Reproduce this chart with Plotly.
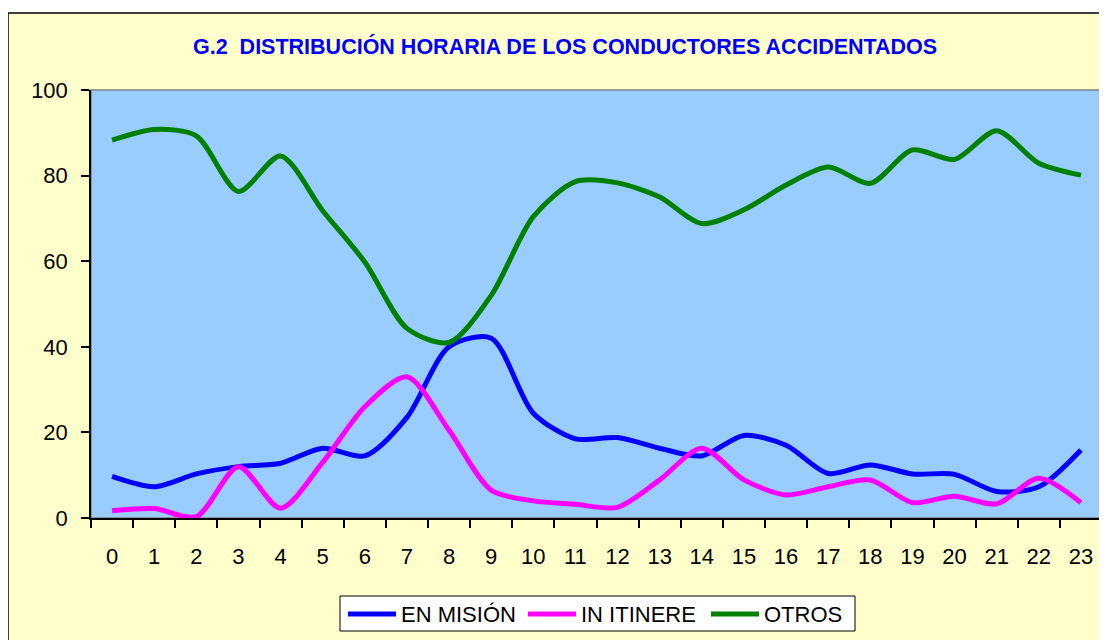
import plotly.graph_objects as go

horas = ["0", "1", "2", "3", "4", "5", "6", "7", "8", "9", "10", "11",
         "12", "13", "14", "15", "16", "17", "18", "19", "20", "21", "22", "23"]
en_mision = [9.7, 7.3, 10.3, 12.0, 12.8, 16.3, 14.5, 23.5, 40.0, 42.0, 24.5, 18.5,
             18.8, 16.3, 14.5, 19.3, 17.0, 10.4, 12.4, 10.3, 10.2, 6.2, 7.3, 15.9]
in_itinere = [1.7, 2.2, 0.3, 12.0, 2.3, 13.0, 26.0, 33.0, 20.5, 6.5, 4.0, 3.2,
              2.5, 8.9, 16.3, 8.9, 5.4, 7.3, 8.9, 3.6, 5.1, 3.3, 9.3, 3.6]
otros = [88.3, 90.8, 89.3, 76.3, 84.6, 71.8, 59.8, 44.3, 41.0, 52.0, 70.4, 78.6,
         78.3, 75.0, 68.8, 72.0, 77.8, 82.0, 78.2, 86.0, 83.8, 90.5, 82.9, 80.1]
y_ticks = [0, 20, 40, 60, 80, 100]

series_names = ["EN MISIÓN", "IN ITINERE", "OTROS"]
series_values = [en_mision, in_itinere, otros]
series_colors = ["#0000FF", "#FF00FF", "#008000"]

FONT = "Liberation Sans, Arial, sans-serif"

fig = go.Figure()
for name, vals, col in zip(series_names, series_values, series_colors):
    fig.add_trace(go.Scatter(x=horas, y=vals, name=name, mode="lines",
                             line=dict(color=col, width=5, shape="spline", smoothing=0.8)))

# page body has an 8px margin: figure origin sits at (8, 8) of the window
OFF = 8
W, H = 1099, 632
L, R, T, B = 83, 5, 82, 122
pw, ph = W - L - R, H - T - B

def px_x(x):
    return (x - OFF - L) / pw

def px_y(y):
    return (H - B - (y - OFF)) / ph

shapes = [
    # outer chart area
    dict(type="rect", xref="paper", yref="paper", layer="below",
         x0=px_x(8), x1=px_x(1160), y0=px_y(700), y1=px_y(13),
         fillcolor="#FFFFCC", line=dict(color="black", width=1.5)),
    # plot area
    dict(type="rect", xref="paper", yref="paper", layer="below",
         x0=0, x1=1, y0=0, y1=1,
         fillcolor="#99CCFF", line=dict(color="#808080", width=1.5)),
    # legend box
    dict(type="rect", xref="paper", yref="paper", layer="above",
         x0=px_x(340), x1=px_x(855), y0=px_y(631), y1=px_y(596),
         fillcolor="white", line=dict(color="black", width=1)),
]

annotations = [dict(text="<b>G.2  DISTRIBUCIÓN HORARIA DE LOS CONDUCTORES ACCIDENTADOS</b>",
                    xref="paper", yref="paper", x=px_x(565), y=px_y(46),
                    xanchor="center", yanchor="middle", showarrow=False,
                    font=dict(family=FONT, size=21.5, color="#0000FF"))]

# custom legend (longer sample lines, as in the original)
leg_line_x = [348, 528, 711]
leg_y = 614
for name, col, lx in zip(series_names, series_colors, leg_line_x):
    shapes.append(dict(type="line", xref="paper", yref="paper", layer="above",
                       x0=px_x(lx), x1=px_x(lx + 48), y0=px_y(leg_y), y1=px_y(leg_y),
                       line=dict(color=col, width=5)))
    annotations.append(dict(text=name, xref="paper", yref="paper",
                            x=px_x(lx + 51), y=px_y(leg_y), xanchor="left", yanchor="middle",
                            showarrow=False, xshift=0,
                            font=dict(family=FONT, size=22, color="black")))

fig.update_layout(
    width=W, height=H,
    margin=dict(l=L, r=R, t=T, b=B, pad=0),
    paper_bgcolor="white",
    plot_bgcolor="rgba(0,0,0,0)",
    font=dict(family=FONT, size=22, color="black"),
    shapes=shapes,
    annotations=annotations,
    showlegend=False,
)

fig.update_xaxes(type="category", categoryorder="array", categoryarray=horas,
                 range=[-0.5, 23.5], showgrid=False, zeroline=False,
                 showline=True, linecolor="black", linewidth=1.5,
                 ticks="outside", tickson="boundaries", ticklen=8, tickcolor="black",
                 tickwidth=1.5, ticklabelstandoff=18,
                 tickfont=dict(family=FONT, size=22, color="black"))
fig.update_yaxes(range=[0, 100], tickvals=y_ticks, showgrid=False, zeroline=False,
                 showline=True, linecolor="black", linewidth=1.5,
                 ticks="outside", ticklen=8, tickcolor="black", tickwidth=1.5,
                 ticklabelstandoff=9,
                 tickfont=dict(family=FONT, size=22, color="black"))

fig.write_html("out.html")
